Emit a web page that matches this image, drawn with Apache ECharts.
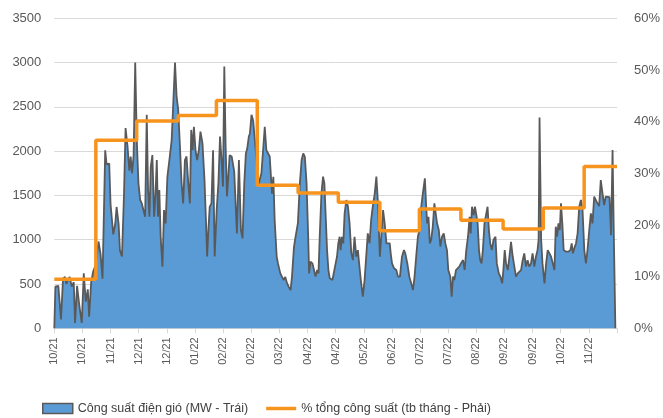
<!DOCTYPE html>
<html>
<head>
<meta charset="utf-8">
<script src="https://cdn.jsdelivr.net/npm/echarts@6/dist/echarts.min.js"></script>
<style>
  html, body { margin: 0; padding: 0; background: #ffffff; }
  #chart { width: 663px; height: 418px; }
</style>
</head>
<body>
<div id="chart"></div>
<script>
// Day offsets are counted from 1 Oct 2021; the axis is marked every 21 days.
const tickStep = 21;
const lastDay = 420;
const tickLabels = ['10/21', '10/21', '11/21', '12/21', '12/21', '01/22', '02/22', '02/22', '03/22', '04/22',
                    '04/22', '05/22', '06/22', '07/22', '07/22', '08/22', '09/22', '09/22', '10/22', '11/22'];

// Daily wind power output, [day offset, MW]
const windMW = [
  [0, 0], [0.8, 470], [3, 480], [5, 100], [6.5, 560], [8, 580], [9, 500], [10, 540], [11.5, 580], [13, 470],
  [14.5, 520], [15.5, 60], [17, 480], [18.5, 280], [20.5, 60], [22, 620], [23.5, 300], [25, 440], [26, 130],
  [27.5, 520], [29, 640], [31, 720], [33, 980], [34.5, 840], [36, 560], [38, 2010], [39, 1850], [41, 1860],
  [42, 1400], [44, 1060], [45.5, 1180], [46.5, 1370], [48, 1180], [49, 880], [50.5, 810], [52, 1500],
  [53.2, 2260], [54.7, 2050], [56, 1780], [57, 1940], [58, 1750], [59.2, 1950], [60.4, 3000], [61.6, 2120],
  [62.8, 1640], [64.1, 1450], [65.3, 1410], [66.6, 1400], [67.8, 1260], [69, 2410], [70, 1560], [71, 1260],
  [72, 1820], [73.2, 1955], [74.5, 1260], [75.5, 1500], [76.5, 1900], [77.4, 1260], [78.4, 1560], [79.4, 1030],
  [80.7, 695], [81.9, 1335], [83.1, 1185], [84.4, 1710], [85.9, 1900], [87.6, 2125], [88.8, 2540], [90.1, 3000],
  [91.3, 2615], [92.5, 2465], [93.8, 2050], [95, 1640], [96.2, 1410], [97.5, 1900], [98.7, 1940], [100, 1640],
  [101.2, 1410], [102.2, 2240], [103.2, 2010], [104.2, 2275], [105.4, 2010], [106.6, 1900], [107.9, 2010],
  [109.1, 2220], [110.6, 2090], [112.1, 1680], [113.1, 1260], [114.1, 810], [115, 1110], [116, 1370],
  [117.3, 1410], [118.5, 2010], [119.7, 810], [121.2, 1335], [122.5, 1640], [123.7, 2165], [125, 1860],
  [125.9, 1600], [126.9, 2955], [127.9, 2050], [128.9, 1490], [130.9, 1955], [132.4, 1940], [134.3, 1770],
  [135.3, 1790], [136.3, 1070], [137.8, 1900], [139.3, 1110], [140.5, 1015], [141.8, 1640], [143, 1975],
  [144, 2030], [145.2, 2165], [146, 2200], [147.2, 2410], [148.4, 2350], [149.7, 2125], [150.9, 1900],
  [152, 1600], [153.4, 1600], [154.6, 1750], [155.9, 1750], [157.1, 2275], [158.3, 2010], [159.6, 2010],
  [160.8, 1940], [162.5, 1520], [163.5, 1710], [164.5, 1220], [166, 810], [167, 730], [168.7, 620], [170, 580],
  [171.2, 545], [172.4, 580], [173.7, 510], [174.9, 470], [176.4, 430], [177.4, 580], [178.9, 920],
  [180.1, 1035], [181.8, 1185], [183.3, 1636], [184.6, 1900], [185.8, 1975], [187, 1938], [188.3, 1636],
  [189.5, 1034], [190.2, 620], [191.2, 752], [192.7, 733], [193.7, 733], [195, 583], [196.2, 658], [197.2, 620],
  [198.2, 1072], [199.4, 1524], [200.6, 1712], [201.6, 1636], [202.6, 1260], [203.6, 883], [204.6, 658],
  [205.6, 564], [207.6, 545], [208.6, 545], [210, 733], [211, 808], [212, 958], [213, 1034], [213.7, 883],
  [214.7, 1034], [215.7, 958], [216.7, 1298], [218, 1448], [219.2, 1373], [220.4, 1185], [221.7, 846],
  [222.9, 770], [224.1, 1034], [225.4, 808], [226.6, 883], [227.3, 770], [228.8, 545], [230.3, 357],
  [231.6, 545], [232.8, 808], [234, 1072], [235.3, 958], [236.5, 1223], [237.7, 1373], [239.2, 1524],
  [240.4, 1712], [241.6, 1411], [243, 808], [245.4, 1335], [246.6, 1185], [247.9, 958], [249, 980],
  [250.4, 958], [251.1, 846], [252.1, 733], [253.6, 677], [255.3, 658], [256.5, 583], [258, 583], [259.5, 808],
  [261, 883], [262, 846], [263.5, 733], [265, 583], [266.4, 508], [267.7, 432], [268.9, 583], [270.1, 808],
  [271.4, 1034], [272.6, 1110], [273.9, 1373], [275.1, 1524], [276.6, 1693], [277.6, 1373], [278.3, 1185],
  [279.3, 1260], [280.3, 958], [281.3, 997], [282.5, 1147], [283.7, 1411], [284.5, 1430], [285.7, 1185],
  [287, 1110], [288.2, 921], [289.4, 1034], [290.7, 1072], [291.9, 958], [293.1, 883], [294.1, 658],
  [295.6, 583], [296.6, 357], [297.6, 583], [298.6, 545], [299.8, 658], [301.1, 658], [302.3, 696],
  [303.5, 733], [305.1, 770], [306.3, 658], [307.5, 883], [308.8, 1034], [310, 1260], [310.8, 1072],
  [311.8, 1373], [313, 1279], [314, 1373], [315, 1392], [316, 1185], [317, 883], [317.9, 770], [318.9, 733],
  [319.9, 883], [321.1, 1185], [322.4, 1185], [323.4, 1373], [324.4, 1110], [325.4, 958], [326.6, 883],
  [327.8, 997], [329.3, 1034], [330.3, 733], [331.8, 620], [333, 583], [334.3, 508], [335.2, 658], [336.2, 883],
  [337.2, 733], [338.5, 658], [339.7, 808], [340.9, 977], [342.2, 808], [343.4, 696], [344.6, 583],
  [345.9, 620], [347.1, 620], [348.4, 658], [349.6, 770], [350.8, 846], [352.1, 696], [353.3, 770],
  [354.5, 696], [355.8, 730], [357, 846], [358.3, 696], [359.5, 808], [360.7, 883], [361.5, 1000],
  [362.2, 2380], [363.4, 1000], [364.4, 733], [365.9, 508], [367.1, 733], [368.3, 883], [369.6, 846],
  [370.8, 808], [372.1, 733], [373.3, 658], [374.3, 1147], [375.3, 1034], [376.3, 1185], [377.3, 1110],
  [378.2, 1411], [379.2, 1185], [380.2, 883], [382, 865], [383.7, 865], [385.2, 883], [386.2, 958],
  [387.1, 846], [388.1, 902], [389.4, 958], [390.6, 1072], [391.8, 1373], [393.1, 1449], [394.3, 1335],
  [395.6, 883], [396.8, 733], [398, 883], [399.3, 1110], [400.5, 1298], [401.7, 1185], [403, 1486],
  [404.2, 1486], [405.4, 1411], [406.7, 1380], [407.9, 1674], [409.2, 1524], [410.4, 1392], [411.6, 1486],
  [412.9, 1486], [414.4, 1480], [415.6, 1050], [416.7, 2013], [417.7, 1000], [418.8, 0]
];

// Monthly average share of total capacity (%), starting day of each month's step
const stepDays = [0, 31, 61.5, 92.5, 121, 151.5, 182, 212, 243, 272.5, 303.5, 335, 365, 395.5];
const monthlyShare = [9.5, 36.4, 40.1, 41.2, 44.1, 27.7, 26.2, 24.4, 18.9, 23.1, 20.9, 19.2, 23.3, 31.3];

const windName = 'Công suất điện gió (MW - Trái)';
const shareName = '% tổng công suất (tb tháng - Phải)';

const shareSteps = stepDays.map((d, i) => [d, monthlyShare[i]]);
shareSteps.push([lastDay, monthlyShare[monthlyShare.length - 1]]);

const fontFamily = '"Liberation Sans", Arial, sans-serif';
const labelGrey = '#595959';
const gridGrey = '#d9d9d9';
const orange = '#F7941E';

const chart = echarts.init(document.getElementById('chart'), null, { renderer: 'canvas' });
chart.setOption({
  animation: false,
  backgroundColor: '#ffffff',
  textStyle: { fontFamily },
  grid: { left: 54.3, right: 43, top: 18.3, bottom: 89.7 },
  legend: {
    left: 42,
    top: 402,
    padding: 0,
    itemWidth: 30,
    itemHeight: 10,
    itemGap: 18,
    textStyle: { fontSize: 12.5, color: '#404040', fontFamily },
    data: [
      { name: windName, icon: 'rect', itemStyle: { color: '#5B9BD5', borderColor: '#595959', borderWidth: 1.5 } },
      { name: shareName, icon: 'path://M0,0 H30 V3.5 H0 Z', itemStyle: { color: orange, borderWidth: 0 } }
    ]
  },
  xAxis: {
    type: 'value',
    min: 0,
    max: lastDay,
    interval: tickStep,
    axisLine: { show: true, lineStyle: { color: gridGrey, width: 1 } },
    axisTick: { show: true, length: 5, lineStyle: { color: gridGrey } },
    splitLine: { show: false },
    axisLabel: {
      rotate: 90,
      margin: 9,
      fontSize: 11,
      color: labelGrey,
      showMaxLabel: true,
      formatter: (v) => {
        const i = Math.round(v / tickStep);
        return tickLabels[i] || '';
      }
    }
  },
  yAxis: [
    {
      type: 'value',
      min: 0,
      max: 3500,
      interval: 500,
      axisLine: { show: false },
      axisTick: { show: false },
      splitLine: { lineStyle: { color: gridGrey, width: 1 } },
      axisLabel: { fontSize: 13, color: labelGrey, margin: 13, formatter: (v) => String(v) }
    },
    {
      type: 'value',
      min: 0,
      max: 60,
      interval: 10,
      position: 'right',
      axisLine: { show: false },
      axisTick: { show: false },
      splitLine: { show: false },
      axisLabel: { fontSize: 13, color: labelGrey, margin: 17, formatter: '{value}%' }
    }
  ],
  series: [
    {
      name: windName,
      type: 'line',
      yAxisIndex: 0,
      data: windMW,
      symbol: 'none',
      showSymbol: false,
      lineStyle: { color: '#595959', width: 1.8 },
      itemStyle: { color: '#5B9BD5' },
      areaStyle: { color: '#5B9BD5', opacity: 1 },
      z: 2
    },
    {
      name: shareName,
      type: 'line',
      yAxisIndex: 1,
      step: 'end',
      data: shareSteps,
      symbol: 'none',
      showSymbol: false,
      lineStyle: { color: orange, width: 3.5 },
      itemStyle: { color: orange },
      z: 3
    }
  ]
});
</script>
</body>
</html>
